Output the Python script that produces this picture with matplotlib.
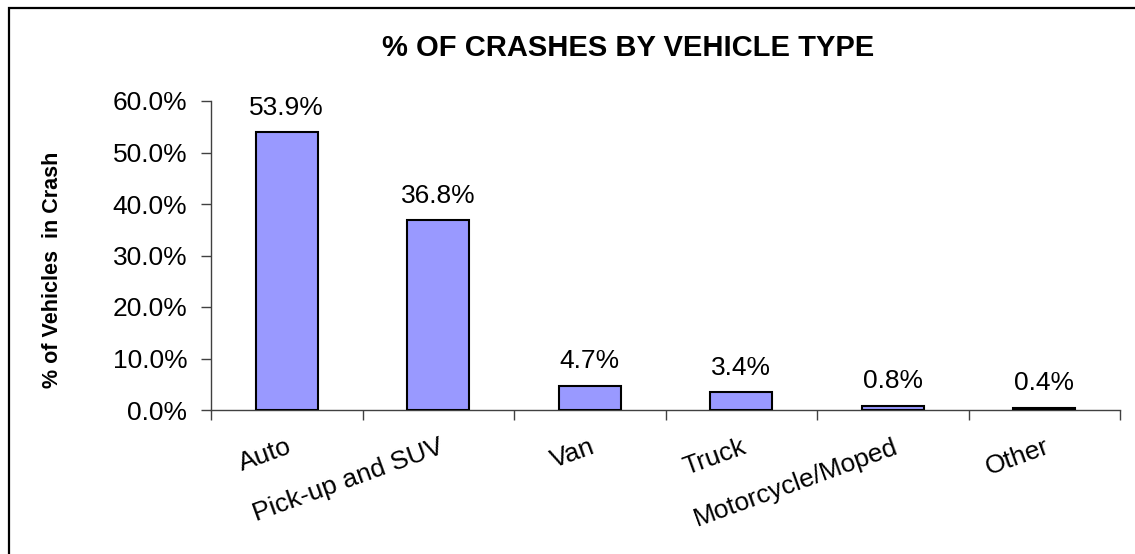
import matplotlib
matplotlib.use("Agg")
import matplotlib.pyplot as plt
from matplotlib.ticker import PercentFormatter, FixedLocator, NullFormatter
from matplotlib.patches import Rectangle

categories = ["Auto", "Pick-up and SUV", "Van", "Truck", "Motorcycle/Moped", "Other"]
values = [53.9, 36.8, 4.7, 3.4, 0.8, 0.4]
value_labels = ["53.9%", "36.8%", "4.7%", "3.4%", "0.8%", "0.4%"]
yticks = [0, 10, 20, 30, 40, 50, 60]

plt.rcParams['font.family'] = ['Liberation Sans', 'DejaVu Sans']

fig = plt.figure(figsize=(11.35, 5.54), dpi=100)
ax = fig.add_axes([211/1135, 1 - 410/554, (1120-211)/1135, (410-101)/554])

x = list(range(len(categories)))
ax.bar(x, values, width=0.41, color="#9999FF", edgecolor="black", linewidth=1.5, zorder=3)

for xi, v, lab in zip(x, values, value_labels):
    ax.annotate(lab, (xi, v), xytext=(0, 9), textcoords="offset points",
                ha="center", va="bottom", fontsize=19)

ax.set_xlim(-0.5, len(categories) - 0.5)
ax.set_ylim(0, 60)
ax.yaxis.set_major_locator(FixedLocator(yticks))
ax.yaxis.set_major_formatter(PercentFormatter(100, decimals=1))
ax.tick_params(axis="y", labelsize=19, length=7, width=1, direction="out", pad=10, color="#404040")

# x ticks at category boundaries, labels at centers
ax.set_xticks([i - 0.5 for i in range(len(categories) + 1)])
ax.xaxis.set_major_formatter(NullFormatter())
ax.set_xticks(x, minor=True)
ax.set_xticklabels(categories, minor=True, rotation=20, ha="right", va="top",
                   rotation_mode="anchor", fontsize=19)
ax.tick_params(axis="x", which="major", length=7, width=1, direction="out", color="#404040")
ax.tick_params(axis="x", which="minor", length=0, pad=18)

for s in ["top", "right"]:
    ax.spines[s].set_visible(False)
for s in ["left", "bottom"]:
    ax.spines[s].set_color("#404040")
    ax.spines[s].set_linewidth(1)

fig.text(53/1135, 1 - 270/554, "% of Vehicles  in Crash", rotation=90, ha="center", va="center",
         fontsize=15.5, fontweight="bold")

fig.text(628/1135, 1 - 48.5/554, "% OF CRASHES BY VEHICLE TYPE", ha="center", va="center",
         fontsize=21, fontweight="bold")

# outer chart frame
fig.patches.append(Rectangle((9/1135, -0.1), 1.2, 1 - 8/554 + 0.1, transform=fig.transFigure,
                             fill=False, edgecolor="black", linewidth=1.6))

fig.savefig("out.png", dpi=100)
